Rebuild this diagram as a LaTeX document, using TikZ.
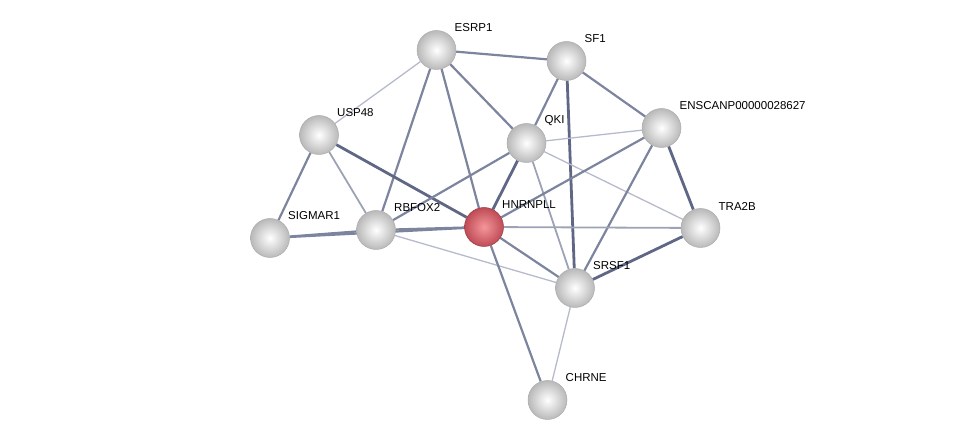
\documentclass[tikz,border=0pt]{standalone}
\usepackage{fontspec}
\setmainfont{Liberation Sans}
\usetikzlibrary{backgrounds}
\definecolor{edark}{RGB}{95,103,133}
\definecolor{emed}{RGB}{125,132,158}
\definecolor{elight}{RGB}{182,187,204}
\definecolor{redin}{RGB}{245,150,155}
\definecolor{redout}{RGB}{190,75,85}
\tikzset{
  prot/.style={circle, inner sep=0pt, minimum size=39pt, shading=radial, inner color=white, outer color=gray!55, draw=gray!65, line width=0.5pt},
  query/.style={circle, inner sep=0pt, minimum size=39pt, shading=radial, inner color=redin, outer color=redout, draw=redout!80!black, line width=0.5pt},
  lbl/.style={anchor=west, inner sep=1pt, font=\fontsize{11.5pt}{13pt}\selectfont, text=black},
  dk/.style={draw=edark, line width=2.8pt},
  md/.style={draw=emed, line width=2.2pt},
  lmd/.style={draw=emed!75!white, line width=1.8pt},
  lt/.style={draw=elight, line width=1.3pt},
}
\begin{document}
\begin{tikzpicture}[x=1pt,y=1pt]
\useasboundingbox (0,0) rectangle (975,446);
\node[prot] (ESRP1) at (436.5,396) {};
\node[prot] (SF1) at (566.5,385) {};
\node[prot] (USP48) at (319,311) {};
\node[prot] (QKI) at (526.5,303) {};
\node[prot] (ENS) at (661.5,318) {};
\node[prot] (SIGMAR1) at (270,208) {};
\node[prot] (RBFOX2) at (376,216) {};
\node[query] (HNRNPLL) at (484,219) {};
\node[prot] (TRA2B) at (700.5,218) {};
\node[prot] (SRSF1) at (575,158) {};
\node[prot] (CHRNE) at (547.5,46) {};
\begin{pgfonlayer}{background}
\draw[lt] (ESRP1) -- (USP48);
\draw[md] (ESRP1) -- (SF1);
\draw[md] (ESRP1) -- (RBFOX2);
\draw[md] (ESRP1) -- (HNRNPLL);
\draw[md] (ESRP1) -- (QKI);
\draw[md] (SF1) -- (QKI);
\draw[md] (SF1) -- (ENS);
\draw[dk] (SF1) -- (SRSF1);
\draw[md] (USP48) -- (SIGMAR1);
\draw[lmd] (USP48) -- (RBFOX2);
\draw[dk] (USP48) -- (HNRNPLL);
\draw[md] (QKI) -- (RBFOX2);
\draw[dk] (QKI) -- (HNRNPLL);
\draw[lt] (QKI) -- (ENS);
\draw[lmd] (QKI) -- (SRSF1);
\draw[lt] (QKI) -- (TRA2B);
\draw[md] (ENS) -- (HNRNPLL);
\draw[dk] (ENS) -- (TRA2B);
\draw[md] (ENS) -- (SRSF1);
\draw[md] (SIGMAR1) -- (RBFOX2);
\draw[md] (SIGMAR1) -- (HNRNPLL);
\draw[md] (RBFOX2) -- (HNRNPLL);
\draw[lt] (RBFOX2) -- (SRSF1);
\draw[lmd] (HNRNPLL) -- (TRA2B);
\draw[md] (HNRNPLL) -- (SRSF1);
\draw[md] (HNRNPLL) -- (CHRNE);
\draw[dk] (TRA2B) -- (SRSF1);
\draw[lt] (SRSF1) -- (CHRNE);
\end{pgfonlayer}
\node[lbl] (lESRP1) at ([shift={(17,22)}]ESRP1.center) {ESRP1};
\node[lbl] (lSF1) at ([shift={(17,22)}]SF1.center) {SF1};
\node[lbl] (lUSP48) at ([shift={(17,22)}]USP48.center) {USP48};
\node[lbl] (lQKI) at ([shift={(17,22)}]QKI.center) {QKI};
\node[lbl] (lENS) at ([shift={(17,22)}]ENS.center) {ENSCANP00000028627};
\node[lbl] (lSIGMAR1) at ([shift={(17,22)}]SIGMAR1.center) {SIGMAR1};
\node[lbl] (lRBFOX2) at ([shift={(17,22)}]RBFOX2.center) {RBFOX2};
\node[lbl] (lHNRNPLL) at ([shift={(17,22)}]HNRNPLL.center) {HNRNPLL};
\node[lbl] (lTRA2B) at ([shift={(17,22)}]TRA2B.center) {TRA2B};
\node[lbl] (lSRSF1) at ([shift={(17,22)}]SRSF1.center) {SRSF1};
\node[lbl] (lCHRNE) at ([shift={(17,22)}]CHRNE.center) {CHRNE};
\end{tikzpicture}
\end{document}
